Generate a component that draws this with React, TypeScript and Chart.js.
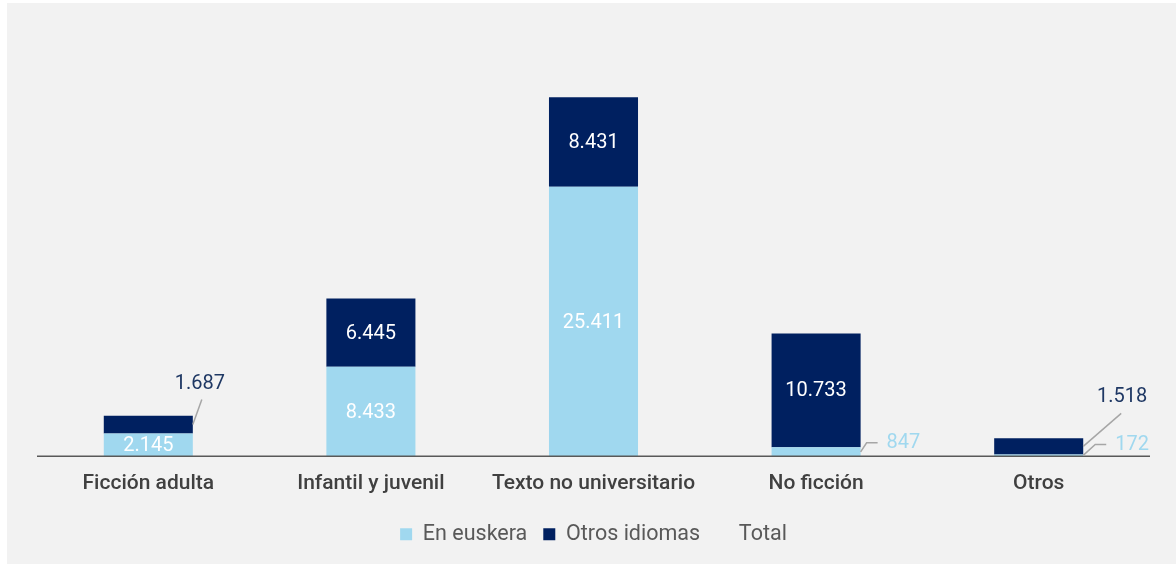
import React, { useEffect, useRef } from 'react';
import { Chart, registerables } from 'chart.js';

Chart.register(...registerables);

const categories = ['Ficción adulta', 'Infantil y juvenil', 'Texto no universitario', 'No ficción', 'Otros'];
const enEuskera = [2145, 8433, 25411, 847, 172];
const otrosIdiomas = [1687, 6445, 8431, 10733, 1518];
const totals = [3832, 14878, 33842, 11580, 1690];

const LIGHT = '#A0D8EF';
const NAVY = '#002060';
const NAVY_TEXT = '#1F3864';

const fmt = (v: number) => String(Math.round(v)).replace(/\B(?=(\d{3})+(?!\d))/g, '.');

// outside label placement (relative to right edge / segment middle)
const outsideLabels: Record<string, any> = {
  '1-0': { lx: 9, ly: -25, tx: 7, ty: -42, align: 'center', color: NAVY_TEXT },
  '1-4': { lx: 38, ly: -33, tx: 39, ty: -50, align: 'center', color: NAVY_TEXT },
  '0-3': { lx: 6, ly: -9, hx: 17, tx: 26, ty: -10, align: 'left', color: LIGHT },
  '0-4': { lx: 12, ly: -11, hx: 23, tx: 32, ty: -11, align: 'left', color: LIGHT },
};

const axisLinePlugin = {
  id: 'axisLine',
  afterDatasetsDraw(chart: any) {
    const { ctx } = chart;
    const xs = chart.scales.x;
    const n = categories.length;
    const step = xs.getPixelForTick(1) - xs.getPixelForTick(0);
    const left = xs.getPixelForTick(0) - step / 2;
    const right = xs.getPixelForTick(n - 1) + step / 2;
    const y = chart.scales.y.getPixelForValue(0);
    ctx.save();
    ctx.strokeStyle = '#595959';
    ctx.lineWidth = 1.5;
    ctx.beginPath();
    ctx.moveTo(left, y);
    ctx.lineTo(right, y);
    ctx.stroke();
    ctx.restore();
  },
};

const labelPlugin = {
  id: 'segLabels',
  afterDatasetsDraw(chart: any) {
    const ctx = chart.ctx;
    ctx.save();
    ctx.font = '20px Roboto';
    ctx.textBaseline = 'middle';
    [0, 1].forEach((di) => {
      const meta = chart.getDatasetMeta(di);
      const ds = chart.data.datasets[di];
      meta.data.forEach((bar: any, i: number) => {
        const v = ds.data[i] as number;
        const { x, y, base, width } = bar.getProps(['x', 'y', 'base', 'width'], true);
        const mid = (y + base) / 2;
        const out = outsideLabels[`${di}-${i}`];
        if (!out) {
          ctx.fillStyle = '#FFFFFF';
          ctx.textAlign = 'center';
          ctx.fillText(fmt(v), x, mid + 1);
        } else {
          const sx = x + width / 2;
          const sy = mid;
          ctx.strokeStyle = '#A6A6A6';
          ctx.lineWidth = 1.5;
          ctx.beginPath();
          ctx.moveTo(sx, sy);
          ctx.lineTo(sx + out.lx, sy + out.ly);
          if (out.hx) ctx.lineTo(sx + out.hx, sy + out.ly);
          ctx.stroke();
          ctx.fillStyle = out.color;
          ctx.textAlign = out.align;
          ctx.fillText(fmt(v), sx + out.tx, sy + out.ty + 1);
        }
      });
    });
    ctx.restore();
  },
};

export default function App() {
  const ref = useRef<HTMLCanvasElement | null>(null);
  useEffect(() => {
    if (!ref.current) return;
    const chart = new Chart(ref.current, {
      type: 'bar',
      data: {
        labels: categories,
        datasets: [
          { label: 'En euskera', data: enEuskera, backgroundColor: LIGHT, stack: 's', barPercentage: 0.8, categoryPercentage: 0.5 } as any,
          { label: 'Otros idiomas', data: otrosIdiomas, backgroundColor: NAVY, stack: 's', barPercentage: 0.8, categoryPercentage: 0.5 } as any,
          {
            type: 'line', label: 'Total', data: totals, stack: 'total', showLine: false, pointRadius: 0,
            borderColor: 'rgba(0,0,0,0)', backgroundColor: 'rgba(0,0,0,0)', borderWidth: 0,
          } as any,
        ],
      },
      options: {
        responsive: false,
        animation: false,
        layout: { padding: { left: 30, right: 26, top: 29, bottom: 9 } },
        plugins: {
          tooltip: { enabled: false },
          legend: {
            position: 'bottom',
            labels: {
              boxWidth: 12, boxHeight: 12, padding: 16,
              color: '#595959', font: { family: 'Roboto', size: 21.5 },
            },
          },
        },
        scales: {
          x: {
            stacked: true,
            grid: { display: false, drawTicks: false },
            border: { display: false },
            ticks: { color: '#404040', padding: 15, font: { family: 'Roboto', size: 21, weight: '500' } },
            afterFit: (s: any) => { s.height -= 4; },
          },
          y: { stacked: true, display: false, min: 0, max: 40000 },
        },
      },
      plugins: [axisLinePlugin, labelPlugin],
    });
    return () => chart.destroy();
  }, []);
  return (
    <div style={{ position: 'fixed', left: 7, top: 3, width: 1169, height: 561, background: '#F2F2F2' }}>
      <canvas ref={ref} width={1169} height={561} />
    </div>
  );
}
